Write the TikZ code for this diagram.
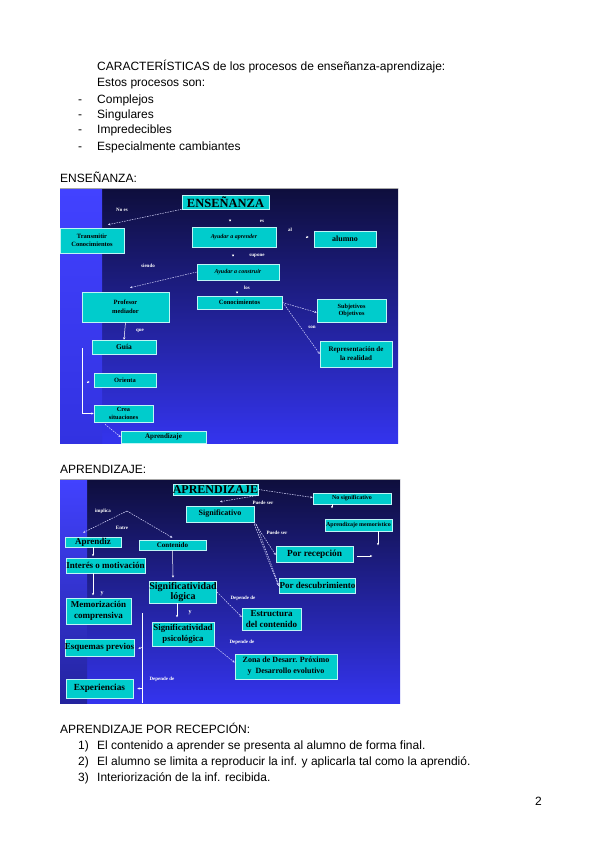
\documentclass[tikz,border=0pt]{standalone}
\usepackage{fontspec}
\setmainfont{Liberation Sans}
\newfontfamily\dserif{Liberation Serif}
\usetikzlibrary{arrows.meta,calc}
\definecolor{boxc}{RGB}{0,204,204}
\definecolor{bgtop}{RGB}{14,14,60}
\definecolor{bgbot}{RGB}{52,52,238}
\definecolor{striptop}{RGB}{66,66,255}
\definecolor{stripbot}{RGB}{50,50,225}
\definecolor{boxedge}{RGB}{190,245,245}
\newcommand{\fs}[1]{\fontsize{#1}{#1}\selectfont}
\begin{document}
\begin{tikzpicture}[x=1pt,y=-1pt,
  body/.style={anchor=base west,inner sep=0pt,font=\fontsize{12}{14}\selectfont},
  box/.style={draw=boxedge,fill=boxc,line width=0.6pt,inner sep=0pt,align=center,text=black,
    font=\dserif\bfseries\fontsize{6.3}{7.5}\selectfont},
  ttl/.style={box,font=\dserif\bfseries\fontsize{12.5}{12.5}\selectfont},
  lab/.style={text=white,inner sep=0pt,font=\dserif\bfseries\fontsize{5}{5.5}\selectfont},
  tip/.style={-{Stealth[length=2.4pt,width=2.2pt]}},
  dline/.style={draw=white!85!blue,line width=0.5pt,dash pattern=on 1.6pt off 1pt,tip},
  wline/.style={draw=white,line width=0.5pt},
  warrow/.style={wline,tip}]
\useasboundingbox[fill=white] (0,0) rectangle (600,848);

% ---------- header text ----------
\node[body] (t1) at (97,71) {CARACTERÍSTICAS de los procesos de enseñanza-aprendizaje:};
\node[body] (t2) at (97,87) {Estos procesos son:};
\node[body] (d1) at (78,103) {-};
\node[body] (i1) at (97,103) {Complejos};
\node[body] (d2) at (78,119) {-};
\node[body] (i2) at (97,119) {Singulares};
\node[body] (d3) at (78,134) {-};
\node[body] (i3) at (97,134) {Impredecibles};
\node[body] (d4) at (78,150) {-};
\node[body] (i4) at (97,150) {Especialmente cambiantes};
\node[body] (h1) at (60,182) {ENSEÑANZA:};

% ---------- diagram 1 background ----------
\shade[top color=bgtop,bottom color=bgbot] (102,188) rectangle (398,443);
\shade[top color=striptop,middle color=black,bottom color=stripbot] (60,188) rectangle (102,443);
\draw[gray!70,line width=0.5pt] (60,188) -- (398,188);

% boxes
\node[ttl,minimum width=87,minimum height=14] (title1) at (225.5,202) {ENSEÑANZA};
\node[box,font=\dserif\bfseries\fontsize{6.5}{8}\selectfont,minimum width=64,minimum height=25] (transmitir) at (92,240.5) {Transmitir\\Conocimientos};
\node[box,font=\dserif\bfseries\itshape\fs{6},minimum width=84,minimum height=20] (ayudar) at (234,237) {Ayudar a aprender};
\node[box,font=\dserif\bfseries\fs{8},minimum width=62,minimum height=16] (alumno) at (345,239) {alumno};
\node[box,font=\dserif\bfseries\itshape\fs{6},minimum width=82,minimum height=16] (construir) at (238,272) {Ayudar a construir};
\node[box,font=\dserif\bfseries\fs{6.5},minimum width=85,minimum height=13] (conoc) at (239.5,302.5) {Conocimientos};
\node[box,minimum width=69,minimum height=23] (subj) at (351.5,310.5) {Subjetivos\\Objetivos};
\node[box,font=\dserif\bfseries\fontsize{7}{9}\selectfont,minimum width=72,minimum height=26] (repr) at (356,354) {Representación de\\la realidad};
\node[box,font=\dserif\bfseries\fontsize{6.5}{9}\selectfont,minimum width=87,minimum height=30] (profesor) at (125.5,307) {Profesor\\mediador};
\node[box,font=\dserif\bfseries\fs{7.5},minimum width=64,minimum height=14] (guia) at (124,347) {Guía};
\node[box,font=\dserif\bfseries\fs{6.5},minimum width=62,minimum height=14] (orienta) at (125,380) {Orienta};
\node[box,font=\dserif\bfseries\fontsize{6.3}{7.5}\selectfont,minimum width=59,minimum height=17] (crea) at (123.5,413.5) {Crea\\situaciones};
\node[box,font=\dserif\bfseries\fs{7},minimum width=85,minimum height=12] (aprend1) at (163.5,437) {Aprendizaje};

% labels
\node[lab] (lnoes) at (122,210) {No es};
\node[lab] (les) at (262,221) {es};
\node[lab] (lal) at (290,230) {al};
\node[lab] (lsupone) at (257,256) {supone};
\node[lab] (lsiendo) at (148,266) {siendo};
\node[lab] (llos) at (247,288) {los};
\node[lab] (lson) at (312,327) {son};
\node[lab] (lque) at (140,331) {que};

% connectors
\draw[dline] (title1.south west) -- ($(transmitir.north)+(16,-3)$);
\draw[warrow] ($(ayudar.north)+(-4,-7)$) -- ($(ayudar.north)+(-4,-5)$);
\draw[warrow] ($(alumno.west)+(-8,-2)$) -- ($(alumno.west)+(-5,-2)$);
\draw[warrow] ($(construir.north)+(-5,-9)$) -- ($(construir.north)+(-5,-7)$);
\draw[dline] (construir.west) -- ($(profesor.north)+(4.5,-4)$);
\draw[warrow] ($(conoc.north)+(-2.5,-4)$) -- ($(conoc.north)+(-2.5,-2)$);
\draw[dline] (conoc.east) -- ($(subj.west)+(0,2)$);
\draw[dline] ($(conoc.east)+(2,2)$) -- (repr.west);
\draw[warrow] (profesor.south) -- (guia.north);
\coordinate (vtop) at (82,348);
\draw[warrow] (vtop) |- (crea.west);
\draw[warrow] ($(orienta.west)+(-7,2)$) -- ($(orienta.west)+(-4,2)$);
\draw[dline] ($(crea.south)+(-18.5,2)$) -- (aprend1.west);

% ---------- diagram 2 ----------
\node[body] (h2) at (60,473) {APRENDIZAJE:};
\shade[top color=bgtop,bottom color=bgbot] (87,479) rectangle (400,703);
\shade[top color=striptop,middle color=black,bottom color=stripbot!70!black] (60,479) rectangle (87,703);
\draw[gray!70,line width=0.5pt] (60,479) -- (400,479);

\node[ttl,font=\dserif\bfseries\fs{12},minimum width=85,minimum height=11] (title2) at (215.5,489.5) {APRENDIZAJE};
\node[box,font=\dserif\bfseries\fs{6},minimum width=78,minimum height=11] (nosig) at (352,498.5) {No significativo};
\node[box,font=\dserif\bfseries\fs{6},minimum width=67,minimum height=12] (memo) at (358.5,525) {Aprendizaje memorístico};
\node[box,font=\dserif\bfseries\fs{8},minimum width=68,minimum height=16] (signif) at (220,514) {Significativo};
\node[box,font=\dserif\bfseries\fs{9.3},minimum width=77,minimum height=16] (recep) at (314.5,554) {Por recepción};
\node[box,font=\dserif\bfseries\fs{9},minimum width=71,minimum height=15] (descub) at (317.5,585.5) {Por descubrimiento};
\node[box,font=\dserif\bfseries\fs{9},minimum width=56,minimum height=10] (aprendiz) at (93,542) {Aprendiz};
\node[box,font=\dserif\bfseries\fs{7},minimum width=67,minimum height=10] (contenido) at (172.5,545) {Contenido};
\node[box,font=\dserif\bfseries\fs{9},minimum width=79,minimum height=15] (interes) at (105.5,565.5) {Interés o motivación};
\node[box,font=\dserif\bfseries\fontsize{10}{10.5}\selectfont,minimum width=62,minimum height=22] (logica) at (183,592) {Significatividad\\lógica};
\node[box,font=\dserif\bfseries\fontsize{9}{10.5}\selectfont,minimum width=65,minimum height=26] (memoriz) at (98.5,611) {Memorización\\comprensiva};
\node[box,font=\dserif\bfseries\fontsize{8.8}{10.5}\selectfont,minimum width=62,minimum height=24] (psico) at (183,634) {Significatividad\\psicológica};
\node[box,font=\dserif\bfseries\fontsize{9}{10.5}\selectfont,minimum width=59,minimum height=22] (estruct) at (271.5,619) {Estructura\\del contenido};
\node[box,font=\dserif\bfseries\fs{9},minimum width=67,minimum height=17] (esquemas) at (99.5,647.5) {Esquemas previos};
\node[box,font=\dserif\bfseries\fontsize{8}{11}\selectfont,minimum width=102,minimum height=25] (zona) at (286,666.5) {Zona de Desarr. Próximo\\y\ \ Desarrollo evolutivo};
\node[box,font=\dserif\bfseries\fs{9.3},minimum width=67,minimum height=19] (exper) at (99.5,688.5) {Experiencias};

% labels
\node[lab] (lpuede1) at (263,503) {Puede ser};
\node[lab] (lpuede2) at (277,533) {Puede ser};
\node[lab] (limplica) at (103,511) {implica};
\node[lab] (lentre) at (122,528) {Entre};
\node[lab,font=\dserif\bfseries\fs{6}] (ly1) at (102,594) {y};
\node[lab,font=\dserif\bfseries\fs{6}] (ly2) at (190,613) {y};
\node[lab] (ldep1) at (243,598) {Depende de};
\node[lab] (ldep2) at (242,642) {Depende de};
\node[lab] (ldep3) at (162,679) {Depende de};

% connectors
\draw[dline] (title2.south east) -- ($(signif.north)+(0,-4)$);
\draw[dline] (title2.east) -- ($(nosig.west)+(0,-1)$);
\draw[warrow] ($(nosig.south)+(-20,0)$) -- ++(0,4);
\draw[warrow] ($(memo.south)+(19.5,0)$) -- ++(0,14);
\draw[warrow] ($(recep.east)+(4,2)$) -- ++(15,0);
\draw[dline] (signif.south east) -- ($(recep.west)+(0,1)$);
\draw[dline] ($(signif.south east)+(0,2)$) -- ($(descub.west)+(-1,0)$);
\draw[dline] ($(signif.south east)+(2,2)$) -- ($(descub.west)+(0,1)$);
\coordinate (impl) at (127,511);
\draw[dline] (impl) -- ($(aprendiz.north)+(-10,-4)$);
\draw[dline] (impl) -- ($(contenido.north)+(0,-2)$);
\draw[warrow] (aprendiz.south) -- ++(0,9);
\draw[warrow] (contenido.south) -- ($(logica.north)+(-10,-3)$);
\draw[warrow] ($(interes.south)+(-12.5,0)$) -- ++(0,22);
\draw[warrow] ($(logica.south)+(-6,0)$) -- ++(0,14);
\draw[dline] (logica.east) -- ($(estruct.west)+(0,-2)$);
\draw[dline] (psico.south east) -- ($(zona.west)+(0,-4)$);
\coordinate (vt) at (142,613);
\coordinate (vb) at (142,703);
\draw[wline] (vt) -- (vb);
\draw[warrow] (vt |- esquemas.east) -- ($(esquemas.east)+(4,1)$);
\draw[warrow] (vt |- exper.east) -- ($(exper.east)+(4,0)$);

% ---------- footer text ----------
\node[body] (h3) at (60,733) {APRENDIZAJE POR RECEPCIÓN:};
\node[body] (n1) at (78,749) {1)};
\node[body] (r1) at (97,749) {El contenido a aprender se presenta al alumno de forma final.};
\node[body] (n2) at (78,765) {2)};
\node[body] (r2) at (97,765) {El alumno se limita a reproducir la inf. y aplicarla tal como la aprendió.};
\node[body] (n3) at (78,781) {3)};
\node[body] (r3) at (97,781) {Interiorización de la inf. recibida.};
\node[body] (pg) at (535,805) {2};
\end{tikzpicture}
\end{document}
